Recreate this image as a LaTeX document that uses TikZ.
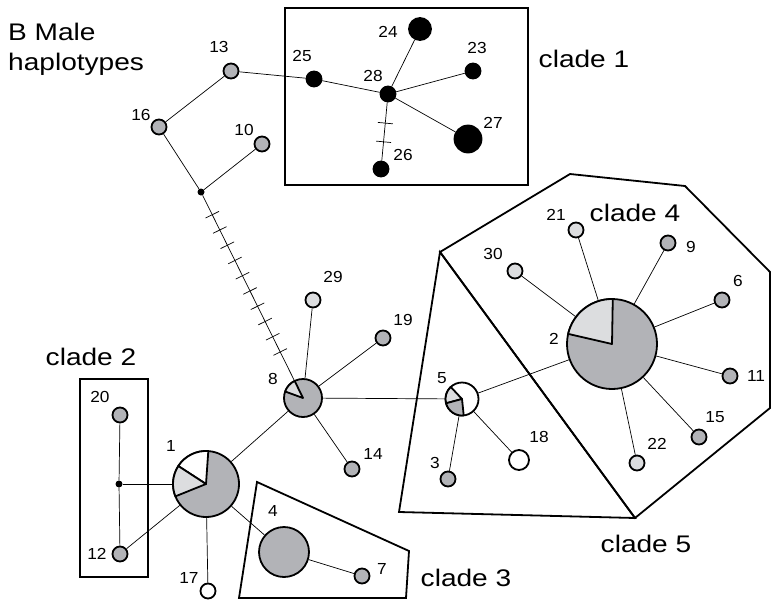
\documentclass[tikz,border=0pt]{standalone}
\usepackage{fontspec}
\setmainfont{Liberation Sans}
\newfontfamily\numfont[FakeStretch=1.08]{Liberation Sans}
\newfontfamily\cladefont[FakeStretch=1.17]{Liberation Sans}
\usetikzlibrary{decorations.markings}
\definecolor{hapgrey}{RGB}{178,179,183}
\definecolor{haplight}{RGB}{220,221,223}

\begin{document}
\begin{tikzpicture}[x=1pt, y=-1pt,
    hap/.style={circle, draw=black, line width=1.8pt, inner sep=0pt},
    junc/.style={circle, fill=black, inner sep=0pt, minimum size=7pt},
    edge/.style={line width=0.7pt},
    cladebox/.style={line width=1.8pt, line join=miter},
    wedgepart/.style={draw=black, line width=1.8pt, line join=round},
    num/.style={font=\numfont\fontsize{16}{16}\selectfont, inner sep=0pt},
    cladelab/.style={font=\cladefont\fontsize{24}{24}\selectfont, inner sep=0pt},
    ticked/.style={postaction={decorate, decoration={markings,
        mark=between positions #1 with {\draw[line width=0.7pt] (0,-7.5pt) -- (0,7.5pt);}}}}
]
    \useasboundingbox (0,0) rectangle (771,600);

    % 分支框
    \draw[cladebox] (285,8) rectangle (528,185);
    \draw[cladebox] (80,379) rectangle (148,577);
    \draw[cladebox] (257,482) -- (409,551) -- (406,598) -- (239,598) -- cycle;
    \draw[cladebox] (440,252) -- (399,512) -- (635,518) -- cycle;
    \draw[cladebox] (440,252) -- (570,174) -- (685,186) -- (770,272)
        -- (770,408) -- (635,518) -- cycle;

    % 单倍型节点: 名称/x/y/直径/颜色
    \foreach \n/\x/\y/\d/\c in {
        13/231/71/15/hapgrey, 16/159/127/15/hapgrey, 10/262/144/15/hapgrey,
        19/383/338/15/hapgrey, 14/352/469/15/hapgrey, 20/120/415/15/hapgrey,
        12/120/554/15/hapgrey, 3/448/479/15/hapgrey, 9/668/243/15/hapgrey,
        6/722/300/15/hapgrey, 11/730/376/15/hapgrey, 15/699/437/15/hapgrey,
        7/362/576/15/hapgrey, 29/313/300/15/haplight, 21/576/230/15/haplight,
        30/515/271/15/haplight, 22/637/463/15/haplight, 17/208/591/15/white,
        25/314/79/15/black, 28/388/94/15/black, 23/473/71/15/black,
        26/381/169/15/black, 24/420/29/22/black, 27/468/139/27/black,
        18/519/460/20/white, 4/284/552/50/hapgrey, 1/206/484/66/hapgrey,
        8/303/398/38/hapgrey, 5/462/399/33/white, 2/612/344/90/hapgrey}{
        \node[hap, minimum size=\d pt, fill=\c] (h\n) at (\x,\y) {};
    }
    \node[junc] (ja) at (201,192) {};
    \node[junc] (jb) at (119,484) {};

    % 连接线
    \foreach \a/\b in {h13/h25, h13/h16, h16/ja, h10/ja, h25/h28, h28/h24,
        h28/h23, h28/h27, h8/h29, h8/h19, h8/h14, h8/h5, h8/h1, h1/jb,
        h1/h12, h1/h17, h1/h4, h4/h7, jb/h20, jb/h12, h5/h3, h5/h18, h5/h2,
        h2/h21, h2/h30, h2/h9, h2/h6, h2/h11, h2/h15, h2/h22}{
        \draw[edge] (\a) -- (\b);
    }
    % 突变步数
    \draw[edge, ticked={0.105 and 0.86 step 0.0825}] (ja) -- (h8);
    \draw[edge, ticked={0.356 and 0.7 step 0.321}] (h28) -- (h26);

    % 饼图扇区 (y 轴向下, 角度取负)
    \filldraw[wedgepart, fill=white] (h1.center) -- ++(-86:33)
        arc[start angle=-86, end angle=-147, radius=33] -- cycle;
    \filldraw[wedgepart, fill=haplight] (h1.center) -- ++(-147:33)
        arc[start angle=-147, end angle=-202, radius=33] -- cycle;
    \filldraw[wedgepart, fill=haplight] (h8.center) -- ++(-116:19)
        arc[start angle=-116, end angle=-160, radius=19] -- cycle;
    \filldraw[wedgepart, fill=haplight] (h5.center) -- ++(-133:16.5)
        arc[start angle=-133, end angle=-195, radius=16.5] -- cycle;
    \filldraw[wedgepart, fill=hapgrey] (h5.center) -- ++(-195:16.5)
        arc[start angle=-195, end angle=-276, radius=16.5] -- cycle;
    \filldraw[wedgepart, fill=haplight] (h2.center) -- ++(-89:45)
        arc[start angle=-89, end angle=-167, radius=45] -- cycle;

    % 编号
    \foreach \n/\x/\y in {13/219/47, 16/141/115, 10/244/130, 25/302/56,
        24/388/32, 28/373/76, 23/477/48, 27/493/123, 26/403/155, 29/333/277,
        19/403/320, 8/273/379, 14/373/454, 1/171/446, 4/273/511, 7/382/569,
        17/189/578, 3/435/463, 5/442/378, 21/556/215, 30/493/254, 9/691/247,
        6/738/281, 2/554/339, 11/756/376, 15/715/417, 18/539/437, 22/657/444,
        20/100/397, 12/97/554}{
        \node[num] (t\n) at (\x,\y) {\n};
    }

    \node[cladelab] (c1) at (584,59) {clade 1};
    \node[cladelab] (c2) at (91,357) {clade 2};
    \node[cladelab] (c3) at (466,578) {clade 3};
    \node[cladelab] (c4) at (635,213) {clade 4};
    \node[cladelab] (c5) at (646,544) {clade 5};
    \node[cladelab, anchor=base west] (title) at (8,40) {B Male};
    \node[cladelab, anchor=base west] (title2) at (8,70) {haplotypes};

\end{tikzpicture}
\end{document}
